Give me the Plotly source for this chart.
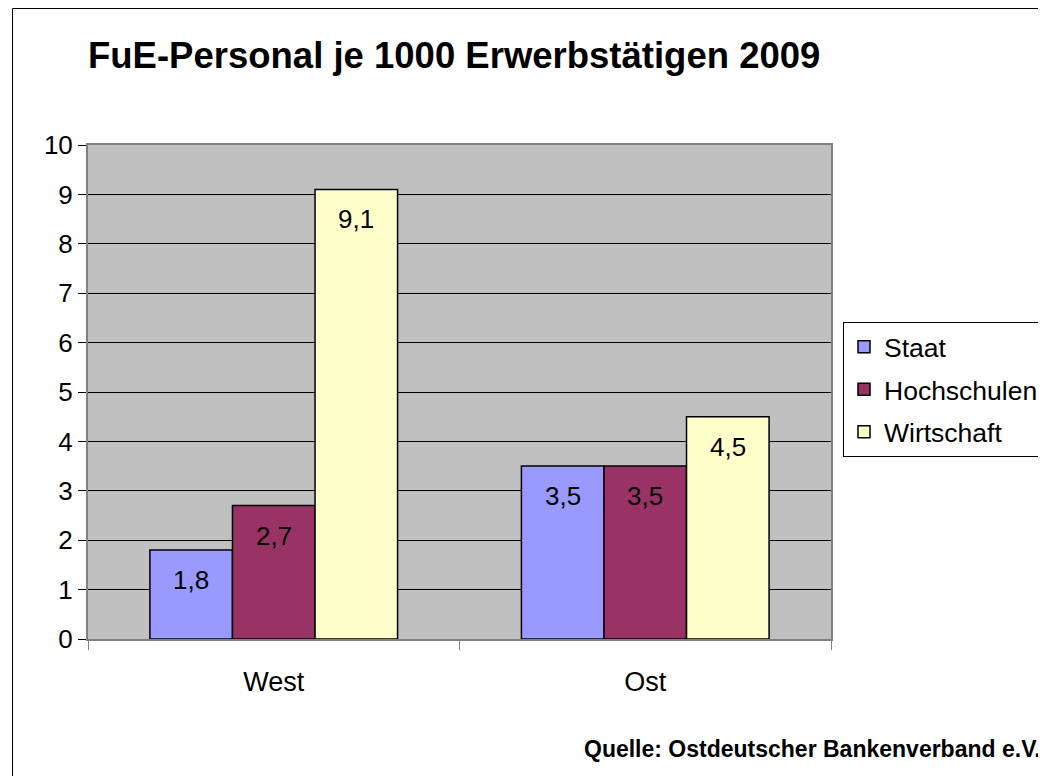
import plotly.graph_objects as go

categories = ["West", "Ost"]
series_names = ["Staat", "Hochschulen", "Wirtschaft"]
staat = [1.8, 3.5]
hochschulen = [2.7, 3.5]
wirtschaft = [9.1, 4.5]
series_values = [staat, hochschulen, wirtschaft]
colors = ["#9999FF", "#993366", "#FFFFCC"]
y_ticks = list(range(0, 11))

W, H = 1046, 776
OFF = 8  # page body offset
ml, mt = 88 - OFF, 145 - OFF
mr = W - (831 - OFF)
mb = H - (639 - OFF)
plot_w = W - ml - mr
plot_h = H - mt - mb
bargap = 1.5 / 4.5
font = "Liberation Sans, Arial, sans-serif"


def px_x(x):
    return (x - OFF - ml) / plot_w


def px_y(y):
    return 1 - (y - OFF - mt) / plot_h


fig = go.Figure()
for name, vals, col in zip(series_names, series_values, colors):
    fig.add_trace(go.Bar(
        x=categories, y=vals, name=name,
        marker=dict(color=col, line=dict(color="black", width=1.5)),
        legendgroup=name,
    ))

bar_px = plot_w / len(categories) * (1 - bargap) / len(series_names)
annotations = []
for i, vals in enumerate(series_values):
    for c, v in zip(categories, vals):
        annotations.append(dict(
            x=c, y=v, xref="x", yref="y", text=f"{v:.1f}".replace(".", ","),
            showarrow=False, yanchor="top", yshift=-13,
            xshift=(i - 1) * bar_px,
            font=dict(family=font, size=26, color="black"),
        ))

annotations.append(dict(
    x=px_x(582), y=px_y(749),
    xref="paper", yref="paper", xanchor="left", yanchor="middle",
    text="<b>Quelle: Ostdeutscher Bankenverband e.V.</b>", showarrow=False,
    font=dict(family=font, size=23, color="black"),
))

fig.update_layout(
    width=W, height=H,
    margin=dict(l=ml, r=mr, t=mt, b=mb, autoexpand=False),
    paper_bgcolor="white", plot_bgcolor="#C0C0C0",
    barmode="group", bargap=bargap, bargroupgap=0,
    separators=",.",
    title=dict(text="<b>FuE-Personal je 1000 Erwerbstätigen 2009</b>",
               x=(88 - OFF) / W, xanchor="left",
               y=1 - (55 - OFF) / H, yanchor="middle",
               font=dict(family=font, size=36.5, color="black")),
    font=dict(family=font, size=26, color="black"),
    xaxis=dict(showline=True, linecolor="#808080", linewidth=2, mirror=True,
               ticks="outside", tickson="boundaries", ticklen=9,
               tickcolor="#808080", ticklabelstandoff=18,
               tickfont=dict(size=27)),
    yaxis=dict(range=[0, 10], tickvals=y_ticks, showgrid=True,
               gridcolor="black", gridwidth=1, zeroline=False,
               showline=True, linecolor="#808080", linewidth=2, mirror=True,
               ticks="outside", ticklen=8, tickcolor="black",
               tickfont=dict(size=26)),
    legend=dict(x=px_x(843), y=px_y(322),
                xanchor="left", yanchor="top",
                bordercolor="black", borderwidth=1, bgcolor="white",
                font=dict(family=font, size=26.5), tracegroupgap=5,
                itemwidth=30),
    annotations=annotations,
    shapes=[dict(type="rect", xref="paper", yref="paper",
                 x0=px_x(12.5), x1=px_x(W + 40),
                 y0=px_y(H + 40), y1=px_y(8.5),
                 line=dict(color="black", width=1), layer="below")],
)

fig.write_html("out.html")
